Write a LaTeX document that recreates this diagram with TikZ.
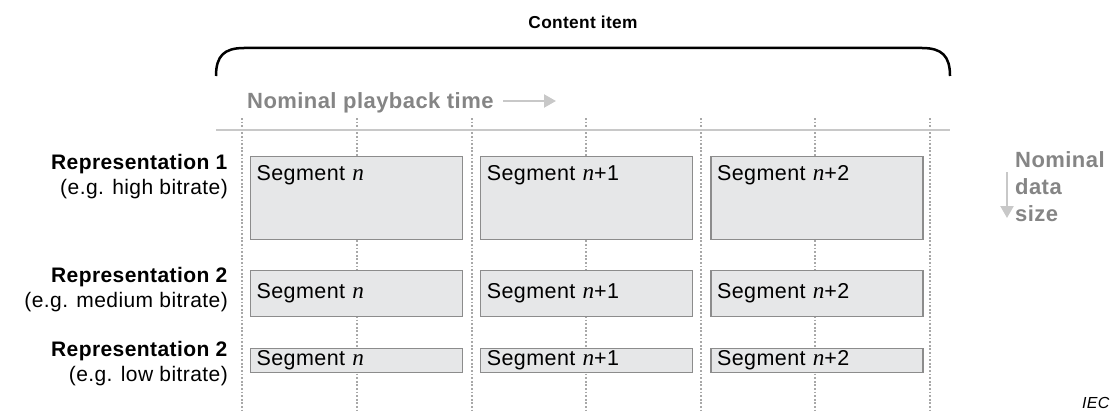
\documentclass[tikz,border=0pt]{standalone}
\usepackage{fontspec}
\setmainfont{Liberation Sans}[LetterSpace=2]
\newfontfamily\timesfont{Liberation Serif}[Scale=1.08]
\usetikzlibrary{positioning,arrows.meta}
\definecolor{boxfill}{HTML}{E6E7E8}
\definecolor{boxline}{HTML}{8C8C8C}
\definecolor{guide}{HTML}{A8A8A8}
\definecolor{lightgray}{HTML}{C8C8C8}
\definecolor{labelgray}{HTML}{858585}
\newcommand{\segn}{{\timesfont\itshape n}}
\tikzstyle{segbox} = [rectangle, draw=boxline, fill=boxfill, line width=1.2pt, text width=200pt, inner xsep=6pt, align=left, font=\fontsize{21.5}{24}\selectfont]
\tikzstyle{bigseg} = [segbox, text height=20pt, text depth=55pt, inner ysep=4pt]
\tikzstyle{midseg} = [segbox, minimum height=46pt]
\tikzstyle{smallseg} = [segbox, minimum height=24pt, inner ysep=1pt]
\tikzstyle{replabel} = [align=right, inner sep=0pt, anchor=east, font=\fontsize{21}{25}\selectfont]
\tikzstyle{guideline} = [draw=guide, line width=2pt, dash pattern=on 1.8pt off 1.8pt]
\tikzstyle{grayarrow} = [draw=lightgray, line width=2.2pt, -{Triangle[length=12pt,width=13pt,fill=lightgray]}]

\begin{document}
\begin{tikzpicture}[x=1pt, y=-1pt]
   \useasboundingbox (0,0) rectangle (1113,412);
   % content item brace
   \node[font=\bfseries\fontsize{17.3}{20}\selectfont, inner sep=0pt] (content) at (583,22) {Content item};
   \draw[line width=2.5pt] (216,76) .. controls (216,56) and (224,48) .. (244,48) -- (922,48) .. controls (942,48) and (950,56) .. (950,76);
   % time axis
   \node[font=\bfseries\fontsize{22}{26}\selectfont, text=labelgray, inner sep=0pt, anchor=base west] (time) at (247,108) {Nominal playback time};
   \coordinate (tstart) at (503,101);
   \coordinate (tend) at (556,101);
   \draw[grayarrow] (tstart) -- (tend);
   \draw[guideline] (242,118) -- (242,412);
   \draw[guideline] (357,118) -- (357,412);
   \draw[guideline] (472,118) -- (472,412);
   \draw[guideline] (586,118) -- (586,412);
   \draw[guideline] (701,118) -- (701,412);
   \draw[guideline] (815,118) -- (815,412);
   \draw[guideline] (930,118) -- (930,412);
   \draw[draw=lightgray, line width=2.8pt] (216,130) -- (950,130);
   % representations
   \node[replabel] (rep1) at (228,176.5) {\textbf{Representation 1}\\(e.g. high bitrate)};
   \node[replabel] (rep2) at (228,289.5) {\textbf{Representation 2}\\(e.g. medium bitrate)};
   \node[replabel] (rep3) at (228,364) {\textbf{Representation 2}\\(e.g. low bitrate)};
   % segments
   \node[bigseg, anchor=north west] (s1a) at (250,156) {Segment \segn};
   \node[bigseg] (s1b) [right=17pt of s1a] {Segment \segn+1};
   \node[bigseg] (s1c) [right=17pt of s1b] {Segment \segn+2};
   \node[midseg, anchor=north west] (s2a) at (250,270) {Segment \segn};
   \node[midseg] (s2b) [right=17pt of s2a] {Segment \segn+1};
   \node[midseg] (s2c) [right=17pt of s2b] {Segment \segn+2};
   \node[smallseg, anchor=north west] (s3a) at (250,348) {Segment \segn};
   \node[smallseg] (s3b) [right=17pt of s3a] {Segment \segn+1};
   \node[smallseg] (s3c) [right=17pt of s3b] {Segment \segn+2};
   % data size
   \node[font=\bfseries\fontsize{22}{27}\selectfont, text=labelgray, align=left, inner sep=0pt, anchor=west] (size) at (1015,187) {Nominal\\data\\size};
   \coordinate (dstart) at (1007,172);
   \coordinate (dend) at (1007,218);
   \draw[grayarrow] (dstart) -- (dend);
   \node[font=\itshape\fontsize{16}{18}\selectfont, inner sep=0pt, anchor=base west] (iec) at (1082,408) {IEC};
\end{tikzpicture}
\end{document}
